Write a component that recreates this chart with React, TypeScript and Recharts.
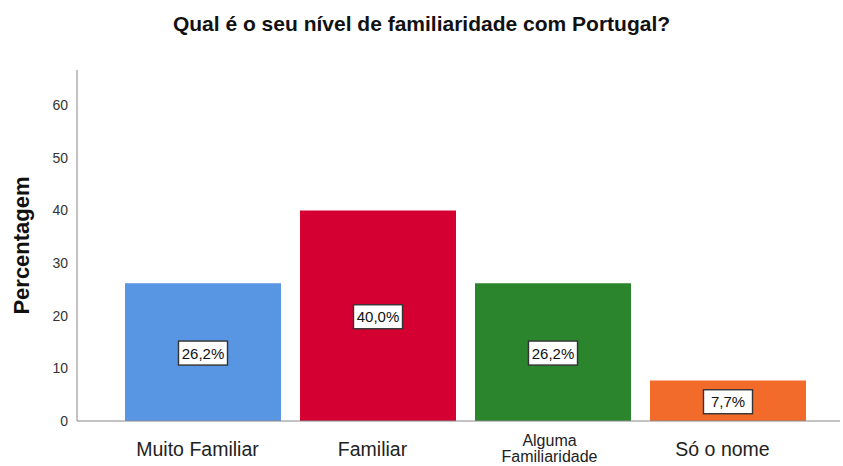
import { BarChart, Bar, XAxis, YAxis, Cell, LabelList } from "recharts"

const categories = ["Muito Familiar", "Familiar", "Alguma Familiaridade", "Só o nome"]
const percentages = [26.2, 40.0, 26.2, 7.7]
const barColors = ["#5895E3", "#D50032", "#2A852C", "#F26B2B"]
const yTicks = [0, 10, 20, 30, 40, 50, 60]

const data = categories.map((name, i) => ({ name, value: percentages[i] }))

const font = "Liberation Sans, Arial, sans-serif"
const fmt = (v: number) => v.toFixed(1).replace(".", ",") + "%"

function ValueBox(props: any) {
  const { x, y, width, height, value } = props
  const cx = x + width / 2
  const cy = y + height / 2 + 1
  const w = 49
  const h = 24
  return <g>
      <rect x={cx - w / 2} y={cy - h / 2} width={w} height={h} fill="#fff" stroke="#333" strokeWidth={1.4} />
      <text x={cx} y={cy + 5.5} textAnchor="middle" fontSize={15} fill="#111" fontFamily={font}>{fmt(value)}</text>
    </g>
}

function CategoryTick(props: any) {
  const { x, y, payload } = props
  const label = String(payload.value)
  if (label === "Alguma Familiaridade") {
    return <text x={x - 3} y={y} textAnchor="middle" fontSize={16} fill="#222" fontFamily={font}>
        <tspan x={x - 3} dy={17}>Alguma</tspan>
        <tspan x={x - 3} dy={16}>Familiaridade</tspan>
      </text>
  }
  return <text x={x - 5} y={y + 27} textAnchor="middle" fontSize={19.5} fill="#222" fontFamily={font}>{label}</text>
}

export default function App() {
  return <div style={{ position: "absolute", left: 0, top: 0, width: 843, height: 466, background: "#fff" }}>
      <div style={{ position: "absolute", top: 12, left: 0, width: 843, textAlign: "center", fontFamily: font, fontWeight: "bold", fontSize: 21, color: "#111" }}>
        Qual é o seu nível de familiaridade com Portugal?
      </div>
      <div style={{ position: "absolute", left: 0, top: 0 }}>
        <BarChart width={843} height={466} data={data} margin={{ top: 70, right: 3, bottom: 0, left: 0 }}>
          <XAxis dataKey="name" height={45} axisLine={{ stroke: "#888" }} tickLine={false} tick={<CategoryTick />} padding={{ left: 38, right: 25 }} interval={0} />
          <YAxis width={77} domain={[0, 66.7]} ticks={yTicks} axisLine={{ stroke: "#888" }} tickLine={false} tickMargin={3}
            tick={{ fontSize: 14, fill: "#333", fontFamily: font }}
            label={{ value: "Percentagem", angle: -90, position: "insideLeft", offset: 21, style: { textAnchor: "middle", fontSize: 22, fontWeight: "bold", fill: "#111", fontFamily: font } }} />
          <Bar dataKey="value" barSize={156} isAnimationActive={false}>
            {data.map((d, i) => <Cell key={d.name} fill={barColors[i]} />)}
            <LabelList dataKey="value" content={<ValueBox />} />
          </Bar>
        </BarChart>
      </div>
    </div>
}
